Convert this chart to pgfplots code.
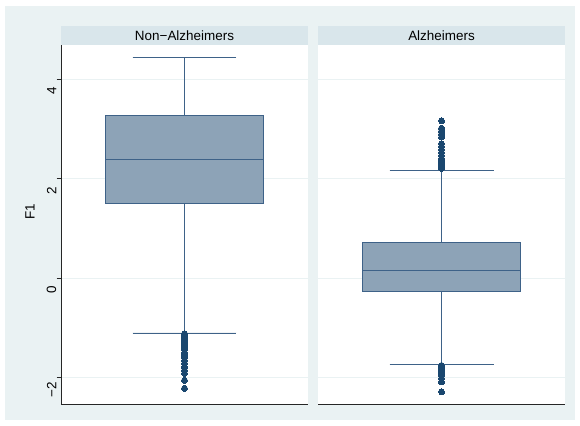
\documentclass[border=0pt]{standalone}
\usepackage{pgfplots}
\pgfplotsset{compat=1.18}
\usepgfplotslibrary{statistics}
\usepackage{fontspec}
\setmainfont{Liberation Sans}
\definecolor{bgc}{HTML}{EAF2F3}
\definecolor{stripc}{HTML}{D9E6EB}
\definecolor{boxfill}{HTML}{8DA3B7}
\definecolor{boxline}{HTML}{3E6288}
\definecolor{dotc}{HTML}{1A476F}
\definecolor{gridc}{HTML}{EAF2F3}
\pgfplotsset{
  panel/.style={
    scale only axis, width=247bp, height=359bp,
    xmin=0, xmax=2, ymin=-2.536, ymax=4.684,
    xtick=\empty,
    ytick={-2,0,2,4},
    ymajorgrids, grid style={gridc, line width=0.7pt},
    axis background/.style={fill=white},
    axis x line*=bottom, axis y line*=left,
    axis line style={black!85, line width=0.8pt, -},
    tick align=outside,
    tick style={black!85, line width=0.7pt},
    major tick length=4.5bp,
    anchor=south west,
    boxplot/draw direction=y,
  },
  bx/.style={
    draw=boxline, fill=boxfill, line width=0.9pt, solid,
    mark=*, mark size=3bp,
    mark options={draw=dotc, fill=dotc, line width=0pt},
  },
}
\begin{document}
\fontsize{13.5}{16}\selectfont
\begin{tikzpicture}[x=1bp,y=1bp]
\fill[white] (0,0) rectangle (580,425);
\fill[bgc] (5,5) rectangle (575,419);
\begin{axis}[panel, name=L, at={(61bp,21bp)},
  yticklabels={−2,0,2,4},
  yticklabel style={rotate=90, anchor=south, font=\fontsize{13.5}{16}\selectfont, inner sep=0pt, xshift=-12bp},
]
\addplot+[bx, boxplot prepared={draw position=1,
  lower whisker=-1.108, lower quartile=1.506, median=2.391,
  upper quartile=3.262, upper whisker=4.44,
  box extend=1.284, whisker extend=0.842}]
  table[row sep=\\, y index=0] {
  -1.12\\ -1.15\\ -1.19\\ -1.24\\ -1.29\\ -1.34\\ -1.39\\ -1.44\\
  -1.50\\ -1.55\\ -1.60\\ -1.66\\ -1.72\\ -1.79\\ -1.86\\ -1.92\\
  -2.06\\ -2.22\\
  };
\end{axis}
\begin{axis}[panel, name=R, at={(318bp,21bp)},
  axis y line*=left, y axis line style={draw=none},
  yticklabels={}, major tick length=0pt,
]
\addplot+[bx, boxplot prepared={draw position=1,
  lower whisker=-1.732, lower quartile=-0.278, median=0.145,
  upper quartile=0.716, upper whisker=2.17,
  box extend=1.284, whisker extend=0.842}]
  table[row sep=\\, y index=0] {
  2.20\\ 2.25\\ 2.30\\ 2.35\\ 2.40\\ 2.46\\ 2.52\\ 2.58\\ 2.64\\ 2.70\\
  2.83\\ 2.89\\ 2.95\\ 3.01\\ 3.16\\
  -1.76\\ -1.81\\ -1.86\\ -1.91\\ -1.96\\ -2.02\\ -2.09\\ -2.29\\
  };
\end{axis}
\fill[stripc] (L.north west) rectangle ([yshift=19bp]L.north east);
\fill[stripc] (R.north west) rectangle ([yshift=19bp]R.north east);
\node at ([yshift=9.5bp]L.north) {Non−Alzheimers};
\node at ([yshift=9.5bp]R.north) {Alzheimers};
\node[rotate=90] at (30,213) {F1};
\end{tikzpicture}
\end{document}
